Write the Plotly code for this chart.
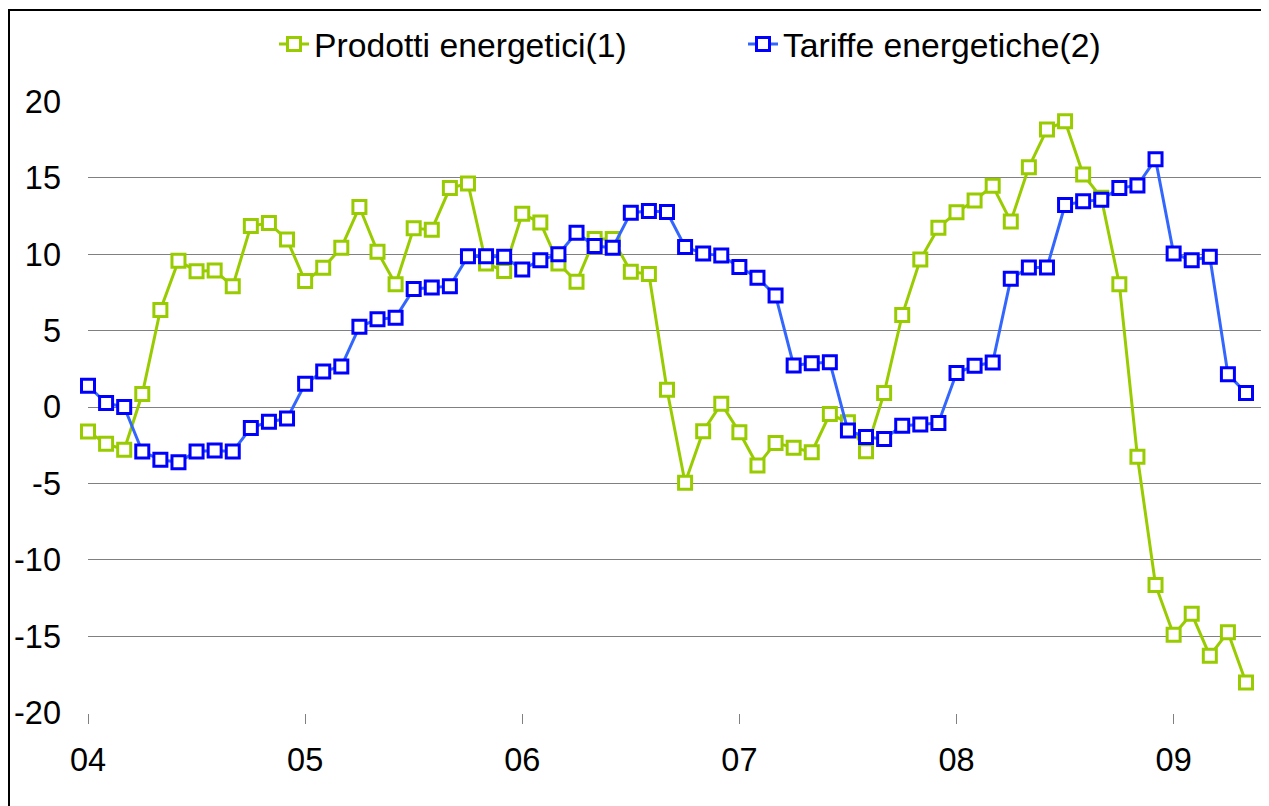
import plotly.graph_objects as go

# Monthly categories Jan 2004 .. May 2009
months = [f"{y}-{m:02d}" for y in range(2004, 2010) for m in range(1, 13)][:65]

prodotti = [
    -1.6, -2.4, -2.8, 0.85, 6.35, 9.57, 8.89, 8.93, 7.91, 11.85, 12.04, 10.96,
    8.24, 9.11, 10.43, 13.09, 10.17, 8.04, 11.7, 11.61, 14.33, 14.63, 9.4, 8.91,
    12.65, 12.07, 9.4, 8.2, 11.0, 11.0, 8.85, 8.7, 1.13, -4.96, -1.59, 0.22,
    -1.65, -3.83, -2.35, -2.67, -2.96, -0.46, -1.0, -2.89, 0.91, 6.02, 9.65, 11.74,
    12.74, 13.52, 14.48, 12.15, 15.70, 18.17, 18.7, 15.22, 13.7, 8.04, -3.26, -11.65,
    -14.91, -13.54, -16.28, -14.74, -18.04,
]

tariffe = [
    1.39, 0.26, 0.0, -2.91, -3.46, -3.61, -2.91, -2.85, -2.91, -1.37, -0.96, -0.76,
    1.52, 2.33, 2.65, 5.26, 5.74, 5.85, 7.72, 7.83, 7.91, 9.87, 9.87, 9.83,
    9.0, 9.61, 10.0, 11.41, 10.54, 10.43, 12.72, 12.83, 12.76, 10.48, 10.04, 9.91,
    9.17, 8.46, 7.3, 2.72, 2.87, 2.93, -1.54, -1.96, -2.09, -1.22, -1.15, -1.04,
    2.22, 2.70, 2.91, 8.39, 9.13, 9.13, 13.22, 13.46, 13.57, 14.33, 14.5, 16.22,
    10.04, 9.61, 9.83, 2.15, 0.91,
]

x_tickvals = ["2004-01", "2005-01", "2006-01", "2007-01", "2008-01", "2009-01"]
x_ticktext = ["04", "05", "06", "07", "08", "09"]
y_tickvals = [-20, -15, -10, -5, 0, 5, 10, 15, 20]
y_ticktext = ["-20", "-15", "-10", "-5", "0", "5", "10", "15", "20"]

GREEN = "#99CC00"
BLUE_LINE = "#3366FF"
BLUE_MARK = "#0000FF"
FONT = "Arial, Liberation Sans, sans-serif"

fig = go.Figure()
fig.add_trace(go.Scatter(
    x=months, y=prodotti, mode="lines+markers", name="Prodotti energetici(1)",
    line=dict(color=GREEN, width=3),
    marker=dict(symbol="square", size=13, color="white",
                line=dict(color=GREEN, width=3)),
    cliponaxis=False,
))
fig.add_trace(go.Scatter(
    x=months, y=tariffe, mode="lines+markers", name="Tariffe energetiche(2)",
    line=dict(color=BLUE_LINE, width=3),
    marker=dict(symbol="square", size=13, color="white",
                line=dict(color=BLUE_MARK, width=3)),
    cliponaxis=False,
))

# page has an 8px body margin: figure is shifted by 8px right/down
fig.update_layout(
    width=1261, height=798,
    margin=dict(l=80, r=4, t=93, b=93),
    paper_bgcolor="white", plot_bgcolor="white",
    font=dict(family=FONT, size=32.5, color="black"),
    showlegend=True,
    legend=dict(orientation="h", x=(274 - 88) / 1177, xanchor="left",
                y=(713 - 44) / 612, yanchor="middle",
                font=dict(family=FONT, size=33.7), bgcolor="rgba(0,0,0,0)",
                entrywidth=424, entrywidthmode="pixels"),
    xaxis=dict(type="category", categoryorder="array", categoryarray=months,
               range=[0, 65.05], tickmode="array", tickvals=x_tickvals,
               ticktext=x_ticktext, showgrid=False, showline=False,
               ticks="outside", ticklen=10, tickcolor="#808080", tickwidth=1.2,
               ticklabelstandoff=8, zeroline=False),
    yaxis=dict(range=[-20.03, 20.03], tickmode="array", tickvals=y_tickvals,
               ticktext=y_ticktext, showgrid=True, gridcolor="#808080",
               gridwidth=1.2, zeroline=False, showline=False, ticks="",
               ticklabelstandoff=26),
    shapes=[dict(type="rect", xref="paper", yref="paper",
                 x0=(1 - 80) / 1177, x1=1.05, y0=-0.3, y1=(705 - 2) / 612,
                 line=dict(color="black", width=2), layer="above")],
)

fig.write_html("out.html")
